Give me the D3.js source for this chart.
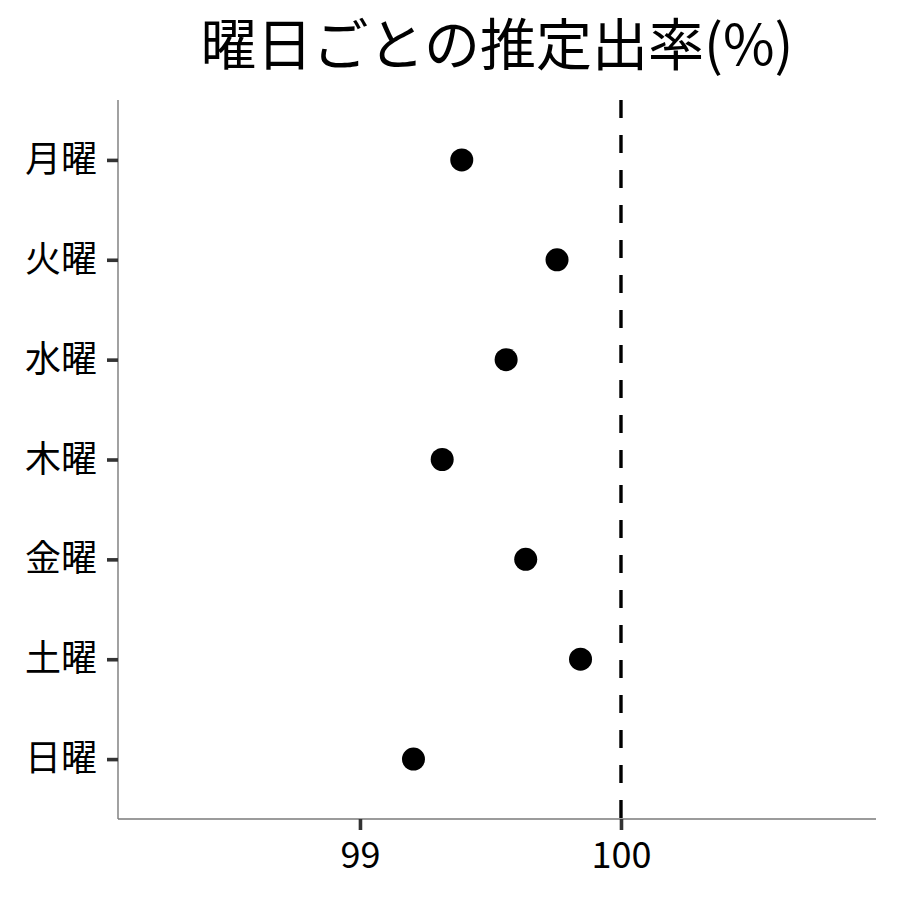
<!DOCTYPE html>
<html>
<head>
<meta charset="utf-8">
<script src="https://d3js.org/d3.v7.min.js"></script>
<style>
  body { margin: 0; background: #fff; }
  text { font-family: "Noto Sans CJK JP", "Noto Sans", sans-serif; }
</style>
</head>
<body>
<svg id="chart"></svg>
<script>
// 曜日と推定値
var days = ["月曜", "火曜", "水曜", "木曜", "金曜", "土曜", "日曜"];
var rates = [99.39, 99.755, 99.56, 99.315, 99.635, 99.845, 99.205];
var xTicks = [99, 100];
var refValue = 100;
var title = "曜日ごとの推定出率(%)";

var W = 900, H = 900;
var m = {top: 100, right: 24, bottom: 81, left: 118};
var iw = W - m.left - m.right;
var ih = H - m.top - m.bottom;

var svg = d3.select("#chart").attr("width", W).attr("height", H);
var g = svg.append("g").attr("transform", "translate(" + m.left + "," + m.top + ")");

var x = d3.scaleLinear().domain([98.073, 100.977]).range([0, iw]);
var y = d3.scalePoint().domain(days).range([0, ih]).padding(0.6);

// 軸
var xAxis = g.append("g")
  .attr("transform", "translate(0," + ih + ")")
  .call(d3.axisBottom(x).tickValues(xTicks).tickFormat(d3.format("d")).tickSize(11).tickPadding(12));
var yAxis = g.append("g")
  .call(d3.axisLeft(y).tickSize(11).tickPadding(10));

[xAxis, yAxis].forEach(function(a) {
  a.select(".domain").attr("stroke", "#7a7a7a").attr("stroke-width", 1.4);
  a.selectAll(".tick line").attr("stroke", "#333").attr("stroke-width", 3.6);
  a.selectAll(".tick text").attr("fill", "#000").style("font-size", "36px");
});
xAxis.select(".domain").attr("d", "M0,0H" + iw);
yAxis.select(".domain").attr("d", "M0,0V" + ih);

// 基準線
g.append("line")
  .attr("x1", x(refValue)).attr("x2", x(refValue))
  .attr("y1", 0).attr("y2", ih)
  .attr("stroke", "#000").attr("stroke-width", 3.4)
  .attr("stroke-dasharray", "18,17");

// 点
g.selectAll("circle.pt")
  .data(days)
  .enter().append("circle")
  .attr("class", "pt")
  .attr("cx", function(d, i) { return x(rates[i]); })
  .attr("cy", function(d) { return y(d); })
  .attr("r", 11.5)
  .attr("fill", "#000");

// タイトル
svg.append("text")
  .attr("x", m.left + iw / 2)
  .attr("y", 65)
  .attr("text-anchor", "middle")
  .style("font-size", "56px")
  .text(title);
</script>
</body>
</html>
